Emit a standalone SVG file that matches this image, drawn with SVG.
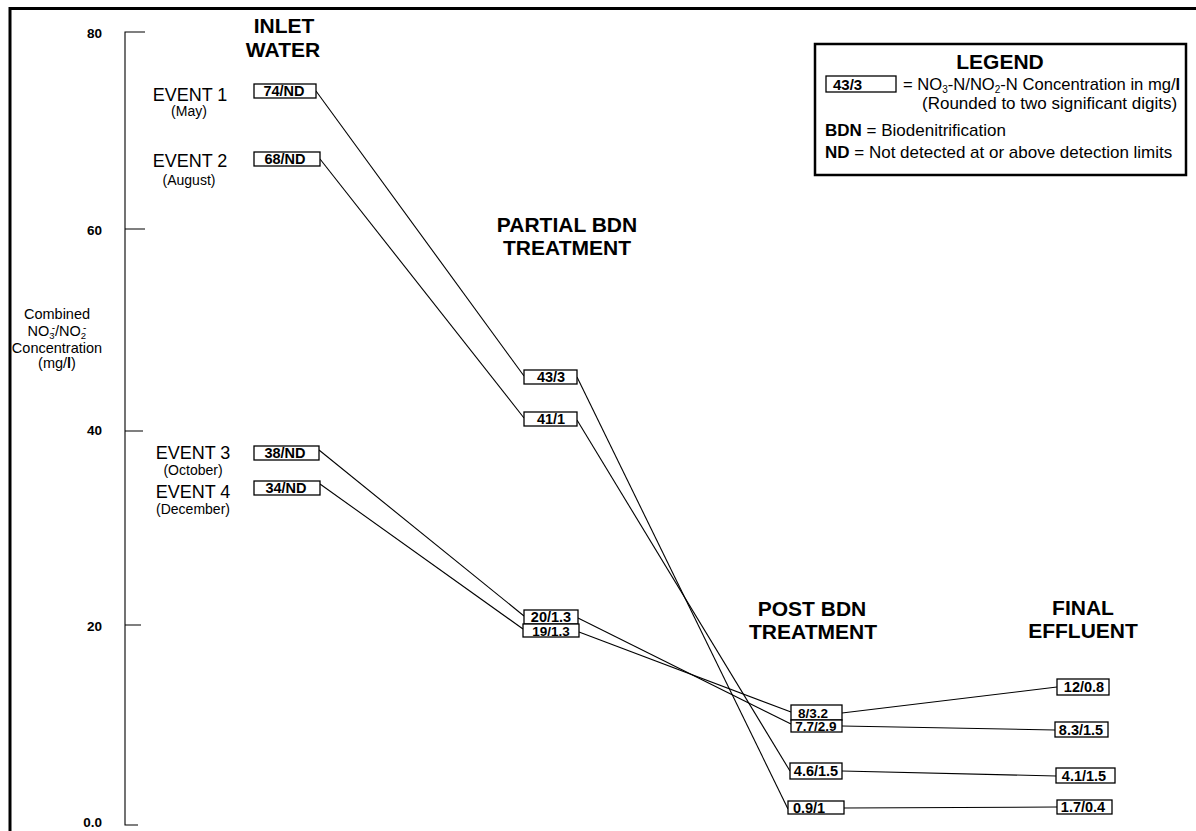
<svg xmlns="http://www.w3.org/2000/svg" width="1196" height="831" viewBox="0 0 1196 831">
<style>
text{font-family:"Liberation Sans",Arial,sans-serif;fill:#000}
.b{fill:#fff;stroke:#000;stroke-width:1.3}
.v{font-weight:bold;font-size:14.5px;text-anchor:middle}
.s{font-size:13.5px}
.t{font-weight:bold;font-size:21px;text-anchor:middle}
.ev{font-size:18px;text-anchor:middle}
.mo{font-size:14px;text-anchor:middle}
.ax{font-weight:bold;font-size:13.5px;text-anchor:end}
.lg{font-size:17px}
.c line{stroke:#000;stroke-width:1.1}
</style>
<rect width="1196" height="831" fill="#fff"/>
<path d="M10,831 V8.5 H1196" fill="none" stroke="#000" stroke-width="3"/>
<g id="axis">
<path d="M145,32 H125 V825 H138 M125,229 H145 M125,431 H143 M125,625 H141" fill="none" stroke="#000" stroke-width="1.1"/>
<text class="ax" x="102" y="38">80</text>
<text class="ax" x="102" y="235">60</text>
<text class="ax" x="102" y="435">40</text>
<text class="ax" x="102" y="631">20</text>
<text class="ax" x="102" y="827">0.0</text>
<text x="57" y="319" font-size="14.5" text-anchor="middle">Combined</text>
<text x="57" y="336" font-size="14.5" text-anchor="middle">NO<tspan font-size="9.5" dy="3">3</tspan><tspan font-size="10" dx="-3" dy="-8">-</tspan><tspan dy="5">/NO</tspan><tspan font-size="9.5" dy="3">2</tspan><tspan font-size="10" dx="-3" dy="-8">-</tspan></text>
<text x="57" y="353" font-size="14.5" text-anchor="middle">Concentration</text>
<text x="57" y="368" font-size="14.5" text-anchor="middle">(mg/<tspan font-weight="bold">l</tspan>)</text>
</g>
<g id="titles">
<text class="t" x="284" y="33">INLET</text>
<text class="t" x="283" y="57">WATER</text>
<text class="t" x="567" y="232">PARTIAL BDN</text>
<text class="t" x="567" y="255">TREATMENT</text>
<text class="t" x="812" y="616">POST BDN</text>
<text class="t" x="813" y="639">TREATMENT</text>
<text class="t" x="1083" y="615">FINAL</text>
<text class="t" x="1083" y="638">EFFLUENT</text>
</g>
<g id="events">
<text class="ev" x="190" y="101">EVENT 1</text>
<text class="mo" x="189" y="116">(May)</text>
<text class="ev" x="190" y="167">EVENT 2</text>
<text class="mo" x="189" y="185">(August)</text>
<text class="ev" x="193" y="459">EVENT 3</text>
<text class="mo" x="193" y="475">(October)</text>
<text class="ev" x="193" y="498">EVENT 4</text>
<text class="mo" x="193" y="514">(December)</text>
</g>
<g id="connectors" class="c">
<line x1="316" y1="91" x2="524" y2="376"/>
<line x1="577" y1="377" x2="788" y2="809"/>
<line x1="844" y1="808" x2="1057" y2="807"/>
<line x1="320" y1="159" x2="524" y2="418"/>
<line x1="577" y1="420" x2="790" y2="771"/>
<line x1="842" y1="771" x2="1056" y2="776"/>
<line x1="319" y1="450" x2="524" y2="616"/>
<line x1="578" y1="618" x2="791" y2="724"/>
<line x1="842" y1="726" x2="1055" y2="730"/>
<line x1="320" y1="484" x2="523" y2="629"/>
<line x1="579" y1="632" x2="791" y2="712"/>
<line x1="842" y1="713" x2="1057" y2="687"/>
</g>
<g id="n74"><rect class="b" x="254" y="84" width="62" height="14"/><text class="v" x="284" y="96">74/ND</text></g>
<g id="n68"><rect class="b" x="254" y="152" width="66" height="14"/><text class="v" x="285" y="164">68/ND</text></g>
<g id="n38"><rect class="b" x="254" y="446" width="65" height="14"/><text class="v" x="285" y="458">38/ND</text></g>
<g id="n34"><rect class="b" x="254" y="481" width="66" height="14"/><text class="v" x="286" y="493">34/ND</text></g>
<g id="n43"><rect class="b" x="524" y="370" width="53" height="14"/><text class="v" x="551" y="382">43/3</text></g>
<g id="n41"><rect class="b" x="524" y="412" width="53" height="14"/><text class="v" x="551" y="424">41/1</text></g>
<g id="n20"><rect class="b" x="524" y="610" width="54" height="14"/><text class="v" x="551" y="622">20/1.3</text></g>
<g id="n19"><rect class="b" x="523" y="624" width="56" height="13"/><text class="v s" x="551" y="636">19/1.3</text></g>
<g id="n8"><rect class="b" x="791" y="705" width="51" height="15"/><text class="v s" x="813" y="718">8/3.2</text></g>
<g id="n77"><rect class="b" x="791" y="720" width="51" height="12"/><text class="v s" x="816" y="731">7.7/2.9</text></g>
<g id="n46"><rect class="b" x="790" y="763" width="52" height="16"/><text class="v" x="816" y="776">4.6/1.5</text></g>
<g id="n09"><rect class="b" x="788" y="801" width="56" height="13"/><text class="v" x="809" y="813">0.9/1</text></g>
<g id="n12"><rect class="b" x="1057" y="679" width="52" height="16"/><text class="v" x="1084" y="692">12/0.8</text></g>
<g id="n83"><rect class="b" x="1055" y="722" width="53" height="15"/><text class="v" x="1081" y="735">8.3/1.5</text></g>
<g id="n41b"><rect class="b" x="1056" y="768" width="59" height="15"/><text class="v" x="1084" y="781">4.1/1.5</text></g>
<g id="n17"><rect class="b" x="1057" y="800" width="55" height="14"/><text class="v" x="1083" y="812">1.7/0.4</text></g>
<g id="legend">
<rect x="815" y="44" width="371" height="131" fill="#fff" stroke="#000" stroke-width="2.5"/>
<text class="t" x="1000" y="69">LEGEND</text>
<rect class="b" x="826" y="76" width="70" height="16"/>
<text x="833" y="90" font-size="15" font-weight="bold">43/3</text>
<text x="903" y="90" font-size="16.6">= NO<tspan font-size="10" dy="3">3</tspan><tspan dy="-3">-N/NO</tspan><tspan font-size="10" dy="3">2</tspan><tspan dy="-3">-N Concentration in mg/</tspan><tspan font-weight="bold">l</tspan></text>
<text class="lg" x="922" y="109">(Rounded to two significant digits)</text>
<text class="lg" x="825" y="136"><tspan font-weight="bold">BDN</tspan> = Biodenitrification</text>
<text class="lg" x="825" y="158"><tspan font-weight="bold">ND</tspan> = Not detected at or above detection limits</text>
</g>
</svg>
